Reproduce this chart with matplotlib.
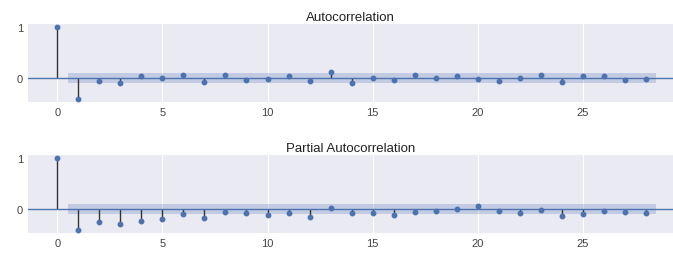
import numpy as np
import matplotlib
matplotlib.use("Agg")
import matplotlib.pyplot as plt

# =============================
# DATA
# =============================
lags = list(range(29))
acf_vals = [1.0, -0.41, -0.05, -0.10, 0.045, 0.01, 0.065, -0.085, 0.065, -0.045,
            -0.025, 0.045, -0.05, 0.12, -0.10, 0.01, -0.04, 0.065, -0.005, 0.04,
            -0.025, -0.05, 0.005, 0.06, -0.085, 0.045, 0.04, -0.045, -0.02]
pacf_vals = [1.0, -0.41, -0.26, -0.30, -0.23, -0.20, -0.10, -0.17, -0.05, -0.07,
             -0.12, -0.07, -0.16, 0.02, -0.08, -0.08, -0.12, -0.05, -0.03, 0.0,
             0.06, -0.04, -0.07, -0.01, -0.14, -0.10, -0.03, -0.05, -0.08]
conf_half = 0.10
titles = ["Autocorrelation", "Partial Autocorrelation"]

# =============================
# STYLE
# =============================
plt.style.use("seaborn-v0_8-darkgrid")
plt.rcParams["font.family"] = ["Liberation Sans", "DejaVu Sans"]

fig = plt.figure(figsize=(6.73, 2.55), dpi=100)
ax_top = fig.add_axes([0.0416, 0.596, 0.9584, 0.306])
ax_bot = fig.add_axes([0.0416, 0.082, 0.9584, 0.306])

blue = "#4C72B0"


def draw_corr(ax, vals, title):
    x = np.array(lags)
    y = np.array(vals)
    ax.vlines(x, 0, y, color="#333333", linewidth=1.0)
    ax.axhline(0, color=blue, linewidth=1.0)
    ax.plot(x, y, marker="o", linestyle="None", color=blue, markersize=3.2)
    band_x = x[1:] - 0.5
    band_x = np.append(band_x, x[-1] + 0.5)
    ax.fill_between(band_x, -conf_half, conf_half, color=blue, alpha=0.25,
                    linewidth=0)
    ax.set_xlim(-1.4, 29.3)
    ax.set_ylim(-0.47, 1.06)
    ax.set_xticks([0, 5, 10, 15, 20, 25])
    ax.set_yticks([0, 1])
    ax.grid(False, axis="y")
    ax.tick_params(labelsize=8, colors="#444444", length=0)
    ax.set_title(title, fontsize=9.5, color="#222222", pad=3)


draw_corr(ax_top, acf_vals, titles[0])
draw_corr(ax_bot, pacf_vals, titles[1])

fig.savefig("out.png", dpi=100)
